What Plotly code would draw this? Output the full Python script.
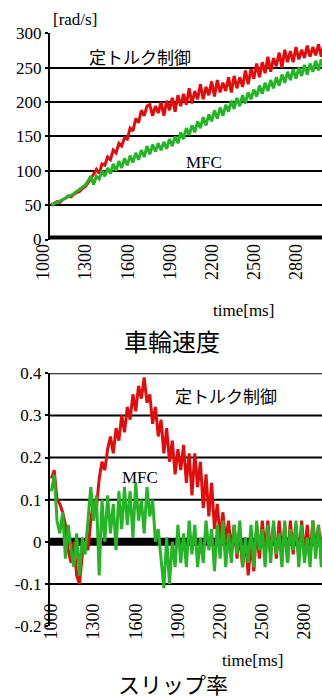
import plotly.graph_objects as go

# ---------------- data ----------------
time_ms = [1000 + 20 * i for i in range(99)]

speed_const_torque = [
    50, 52, 55, 54, 58, 60, 63, 62, 66, 68, 70, 74, 77, 82, 88,
    95, 102, 96, 110, 108, 120, 116, 130, 126, 140,
    136, 148, 146, 162, 158, 176, 170, 188, 180, 194,
    196, 180, 194, 184, 200, 180, 202, 188, 206, 186,
    210, 194, 212, 196, 220, 198, 216, 204, 226, 204,
    222, 210, 230, 208, 232, 214, 228, 216, 236, 214,
    238, 220, 236, 222, 246, 226, 248, 234, 256, 236,
    258, 242, 266, 244, 264, 252, 272, 250, 276, 258,
    274, 258, 280, 262, 276, 264, 282, 266, 280, 268,
    284, 266, 286, 272,
]
speed_mfc = [
    50, 52, 54, 56, 57, 60, 63, 64, 67, 70, 72, 76, 79, 85, 92,
    80, 92, 88, 100, 92, 104, 96, 110, 100, 114,
    104, 118, 108, 122, 112, 126, 116, 130, 120, 136,
    124, 138, 128, 140, 130, 142, 132, 146, 136, 150,
    140, 156, 146, 162, 152, 166, 156, 172, 162, 178,
    166, 182, 172, 188, 176, 192, 180, 196, 186, 202,
    190, 206, 194, 210, 198, 214, 204, 218, 208, 224,
    212, 228, 216, 232, 220, 236, 224, 240, 228, 244,
    232, 248, 234, 250, 238, 254, 240, 256, 244, 260,
    246, 262, 250, 266,
]
slip_const_torque = [
    0.15, 0.17, 0.10, 0.09, 0.07, 0.04, -0.02, -0.05, 0.00, -0.08,
    -0.10, -0.03, 0.00, -0.02, 0.05, 0.10, 0.08, 0.15, 0.19, 0.17,
    0.22, 0.25, 0.21, 0.27, 0.24, 0.30, 0.26, 0.32, 0.29, 0.35,
    0.31, 0.37, 0.34, 0.39, 0.33, 0.35, 0.28, 0.32, 0.25, 0.29,
    0.21, 0.27, 0.19, 0.24, 0.16, 0.22, 0.17, 0.23, 0.14, 0.21,
    0.11, 0.21, 0.13, 0.19, 0.08, 0.16, 0.06, 0.14, 0.03, 0.09,
    0.01, 0.07, 0.00, 0.05, -0.02, 0.04, -0.04, 0.02, -0.06, 0.01,
    -0.08, 0.00, -0.07, 0.03, -0.04, 0.05, -0.02, 0.05, -0.03, 0.04,
    -0.04, 0.05, -0.03, 0.04, -0.05, 0.05, -0.03, 0.04, -0.04, 0.05,
    -0.03, 0.04, -0.04, 0.05, -0.02, 0.04, -0.04, 0.05, -0.03,
]
slip_mfc = [
    0.12, 0.16, 0.05, 0.02, 0.07, -0.04, 0.04, -0.02, -0.06, 0.02,
    -0.08, 0.01, -0.03, 0.06, 0.13, 0.05, 0.11, -0.08, 0.10, 0.00,
    0.11, 0.02, 0.09, -0.02, 0.12, 0.03, 0.13, 0.04, 0.12, 0.01,
    0.14, 0.05, 0.10, 0.02, 0.13, 0.06, 0.10, 0.00, 0.03, -0.04,
    -0.11, 0.01, -0.10, 0.00, -0.06, 0.04, -0.05, 0.02, -0.06, 0.05,
    -0.03, 0.04, -0.06, 0.01, -0.05, 0.05, -0.02, 0.03, -0.07, 0.04,
    -0.04, 0.05, -0.06, 0.02, -0.05, 0.04, -0.03, 0.05, -0.06, 0.01,
    -0.05, 0.04, -0.06, 0.05, -0.02, 0.03, -0.06, 0.04, -0.05, 0.05,
    -0.03, 0.02, -0.06, 0.05, -0.05, 0.03, -0.02, 0.05, -0.06, 0.04,
    -0.05, 0.01, -0.06, 0.05, -0.04, 0.04, -0.06, 0.05, -0.03,
]
assert len(speed_const_torque) == len(speed_mfc) == len(time_ms)
assert len(slip_const_torque) == len(slip_mfc) == len(time_ms)

x_ticks = [1000, 1300, 1600, 1900, 2200, 2500, 2800]
speed_ticks = [0, 50, 100, 150, 200, 250, 300]
slip_ticks = [-0.2, -0.1, 0, 0.1, 0.2, 0.3, 0.4]
slip_tick_text = ["-0.2", "-0.1", "0", "0.1", "0.2", "0.3", "0.4"]
slip_grid = [-0.1, 0.1, 0.2, 0.3, 0.4]

# ---------------- layout helpers ----------------
W, H = 322, 698
def fx(px):
    return px / W
def fy(px):
    return 1 - px / H

RED = "#e10d0d"
GREEN = "#25b425"
SERIF = "Liberation Serif"
CJK = "Noto Sans CJK JP"

fig = go.Figure()
fig.add_trace(go.Scatter(x=time_ms, y=speed_const_torque, mode="lines",
                         line=dict(color=RED, width=3), xaxis="x", yaxis="y"))
fig.add_trace(go.Scatter(x=time_ms, y=speed_mfc, mode="lines",
                         line=dict(color=GREEN, width=3), xaxis="x", yaxis="y"))
fig.add_trace(go.Scatter(x=time_ms, y=slip_const_torque, mode="lines",
                         line=dict(color=RED, width=3), xaxis="x2", yaxis="y2"))
fig.add_trace(go.Scatter(x=time_ms, y=slip_mfc, mode="lines",
                         line=dict(color=GREEN, width=3), xaxis="x2", yaxis="y2"))

xcommon = dict(
    range=[990, 2925], tickvals=x_ticks, ticktext=[str(v) for v in x_ticks],
    tickangle=-90, tickfont=dict(family=SERIF, size=18, color="black"),
    showgrid=False, zeroline=False, showline=False, ticks="",
    domain=[fx(50), 1], automargin=False,
)
ycommon = dict(
    tickfont=dict(family=SERIF, size=17, color="black"),
    zeroline=False, showline=True, linecolor="black", linewidth=2,
    ticks="outside", ticklen=3, tickwidth=2, tickcolor="black",
    automargin=False,
)
fig.update_layout(
    width=W, height=H, margin=dict(l=0, r=0, t=0, b=0, autoexpand=False),
    font=dict(family=SERIF, color="black"),
    paper_bgcolor="white", plot_bgcolor="white", showlegend=False,
    hovermode=False,
    xaxis=dict(**xcommon, anchor="y", ticklabelshift=-8),
    xaxis2=dict(**xcommon, anchor="free", position=fy(599)),
    yaxis=dict(**ycommon, domain=[fy(239.5), fy(33.3)], range=[0, 300],
               tickvals=speed_ticks, showgrid=True, gridcolor="black",
               gridwidth=2, anchor="x"),
    yaxis2=dict(**ycommon, domain=[fy(626), fy(373.3)], range=[-0.2, 0.4],
                tickvals=slip_ticks, ticktext=slip_tick_text,
                showgrid=False, anchor="x2"),
)

shapes = [
    dict(type="line", xref="x domain", yref="y", x0=0, x1=1, y0=0, y1=0,
         line=dict(color="black", width=8), layer="below"),
    dict(type="line", xref="x2 domain", yref="y2", x0=0, x1=1, y0=0, y1=0,
         line=dict(color="black", width=8), layer="below"),
]
for g in slip_grid:
    shapes.append(dict(type="line", xref="x2 domain", yref="y2", x0=0, x1=1,
                       y0=g, y1=g, line=dict(color="black", width=2), layer="below"))
fig.update_layout(shapes=shapes)

def ann(text, x, y, family, size):
    return dict(text=text, x=fx(x), y=fy(y), xref="paper", yref="paper",
                xanchor="center", yanchor="middle", showarrow=False,
                font=dict(family=family, size=size, color="black"))

fig.update_layout(annotations=[
    ann("[rad/s]", 75, 19, SERIF, 17),
    ann("定トルク制御", 140, 57, CJK, 17),
    ann("MFC", 204, 163, SERIF, 17),
    ann("time[ms]", 243, 310, SERIF, 17),
    ann("車輪速度", 172, 340, CJK, 24),
    ann("定トルク制御", 226, 395, CJK, 17),
    ann("MFC", 140, 477, SERIF, 17),
    ann("time[ms]", 252, 660, SERIF, 17),
    ann("スリップ率", 173, 683, CJK, 22),
])

fig.write_html(
    "out.html",
    config={"displayModeBar": False, "staticPlot": True},
    post_script="document.body.style.margin='0';document.body.style.overflow='hidden';",
)
